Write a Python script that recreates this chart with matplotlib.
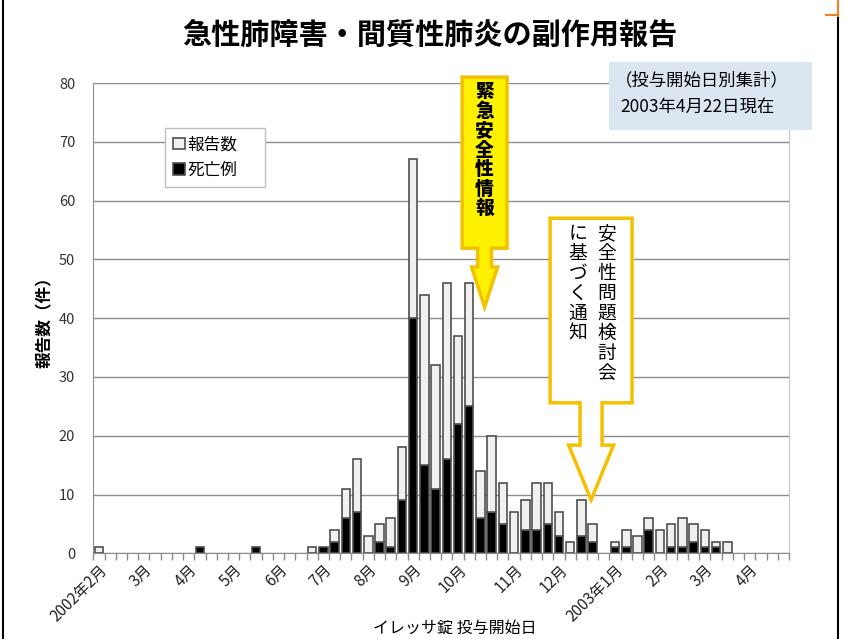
import numpy as np
import matplotlib.pyplot as plt
from matplotlib.patches import Polygon, Rectangle
from matplotlib.lines import Line2D

plt.rcParams['font.family'] = ['Noto Sans CJK JP', 'DejaVu Sans']

# 投与開始日別（約1週ごと）2002年2月〜2003年4月
reports = [1, 0, 0, 0, 0, 0, 0, 0, 0, 1,
           0, 0, 0, 0, 1, 0, 0, 0, 0, 1,
           1, 4, 11, 16, 3, 5, 6, 18, 67, 44,
           32, 46, 37, 46, 14, 20, 12, 7, 9, 12,
           12, 7, 2, 9, 5, 0, 2, 4, 3, 6,
           4, 5, 6, 5, 4, 2, 2, 0, 0, 0,
           0, 0]
deaths = [0, 0, 0, 0, 0, 0, 0, 0, 0, 1,
          0, 0, 0, 0, 1, 0, 0, 0, 0, 0,
          1, 2, 6, 7, 0, 2, 1, 9, 40, 15,
          11, 16, 22, 25, 6, 7, 5, 0, 4, 4,
          5, 3, 0, 3, 2, 0, 1, 1, 0, 4,
          0, 1, 1, 2, 1, 1, 0, 0, 0, 0,
          0, 0]
month_pos = [0, 4, 8, 12, 16, 20, 24, 28, 32, 37, 41, 46, 50, 54, 58]
month_labels = ['2002年2月', '3月', '4月', '5月', '6月', '7月', '8月', '9月',
                '10月', '11月', '12月', '2003年1月', '2月', '3月', '4月']

reports = np.array(reports)
deaths = np.array(deaths)
x = np.arange(len(reports))
alive = reports - deaths

fig = plt.figure(figsize=(8.54, 6.39), dpi=100)
ax = fig.add_axes([0.1093, 0.1341, 0.8146, 0.7360])

m1 = deaths > 0
m2 = alive > 0
b_dead = ax.bar(x[m1], deaths[m1], width=0.76, color='black',
                edgecolor='#505050', linewidth=1.2, zorder=3)
b_all = ax.bar(x[m2], alive[m2], bottom=deaths[m2], width=0.76, color='#f0f0f0',
               edgecolor='#505050', linewidth=1.2, zorder=3)

ax.set_xlim(-0.5, len(reports) - 0.5)
ax.set_ylim(0, 80)
ax.set_yticks(np.arange(0, 81, 10))
ax.yaxis.grid(True, color='#8c8c8c', linewidth=1)
ax.set_axisbelow(True)
ax.tick_params(axis='y', length=0, pad=13, labelsize=10.5, labelcolor='#333333')

ax.set_xticks(month_pos)
ax.set_xticklabels(month_labels, rotation=45, ha='right', rotation_mode='anchor',
                   fontsize=11, color='#222222')
ax.set_xticks(np.arange(-0.5, len(reports), 1), minor=True)
ax.tick_params(axis='x', which='major', length=0, pad=6)
ax.tick_params(axis='x', which='minor', length=5, color='#8c8c8c', width=1)

for s in ['left', 'bottom']:
    ax.spines[s].set_color('#8c8c8c')
ax.spines['top'].set_visible(False)
ax.spines['right'].set_color('#b8c8d8')

ax.legend([b_all, b_dead], ['報告数', '死亡例'], loc='upper left',
          bbox_to_anchor=(0.103, 0.772, 0.144, 0.132), mode='expand',
          borderaxespad=0, fontsize=12, fancybox=False, edgecolor='#c0c0c0',
          framealpha=1, handlelength=0.7, handleheight=0.7, handletextpad=0.15,
          borderpad=0.5, labelspacing=0.5)


def callout(cx, y_top, y_box, half_box, half_shaft, half_head, y_head, y_tip, **kw):
    pts = [(cx - half_box, y_top), (cx + half_box, y_top), (cx + half_box, y_box),
           (cx + half_shaft, y_box), (cx + half_shaft, y_head), (cx + half_head, y_head),
           (cx, y_tip), (cx - half_head, y_head), (cx - half_shaft, y_head),
           (cx - half_shaft, y_box), (cx - half_box, y_box)]
    ax.add_patch(Polygon(pts, closed=True, clip_on=False, zorder=5, **kw))


def vtext(cx, cy, s, pitch, **kw):
    for i, ch in enumerate(s):
        ax.annotate(ch, xy=(cx, cy), xytext=(0, -i * pitch), textcoords='offset points',
                    ha='center', va='center', annotation_clip=False, zorder=6, **kw)


# 緊急安全性情報（2002年10月15日）
callout(34.37, 81.0, 51.9, 2.0, 0.62, 1.16, 48.7, 41.9,
        facecolor='#fff200', edgecolor='#f2c200', linewidth=2.5)
vtext(34.37, 78.5, '緊急安全性情報', 14, fontsize=13.5, fontweight='heavy')

# 安全性問題検討会に基づく通知（2002年12月25日）
callout(43.86, 57.0, 25.6, 3.65, 0.98, 2.0, 18.4, 9.07,
        facecolor='white', edgecolor='#f5c000', linewidth=2.5)
vtext(45.28, 54.4, '安全性問題検討会', 14.4, fontsize=13.5)
vtext(42.7, 54.4, 'に基づく通知', 14.4, fontsize=13.5)

# 集計条件
fig.add_artist(Rectangle((609 / 854, 1 - 130 / 639), 203 / 854, 68 / 639,
                         transform=fig.transFigure, facecolor='#dce6f1',
                         edgecolor='none', zorder=4))
fig.text(615 / 854, 1 - 80 / 639, '（投与開始日別集計）', fontsize=12.5,
         va='center', ha='left', zorder=5)
fig.text(620 / 854, 1 - 107 / 639, '2003年4月22日現在', fontsize=12.5,
         va='center', ha='left', zorder=5)

fig.text(0.503, 1 - 35 / 639, '急性肺障害・間質性肺炎の副作用報告', fontsize=21,
         fontweight='bold', ha='center', va='center')
fig.text(45 / 854, 1 - 318 / 639, '報告数（件）', rotation=90, fontsize=12,
         fontweight='bold', ha='center', va='center')
fig.text(455 / 854, 1 - 628 / 639, 'イレッサ錠 投与開始日', fontsize=11.5,
         ha='center', va='center')

# 外枠
fig.add_artist(Line2D([2.5 / 854, 2.5 / 854], [0, 1], color='black', lw=1.5))
fig.add_artist(Line2D([838 / 854, 838 / 854], [0, 1 - 16 / 639], color='black', lw=1.5))
fig.add_artist(Line2D([838 / 854, 838 / 854], [1 - 16 / 639, 1], color='#f08020', lw=1.5))
fig.add_artist(Line2D([826 / 854, 838 / 854], [1 - 15 / 639, 1 - 15 / 639],
                      color='#f08020', lw=1.5))

fig.savefig('out.png', dpi=100)
